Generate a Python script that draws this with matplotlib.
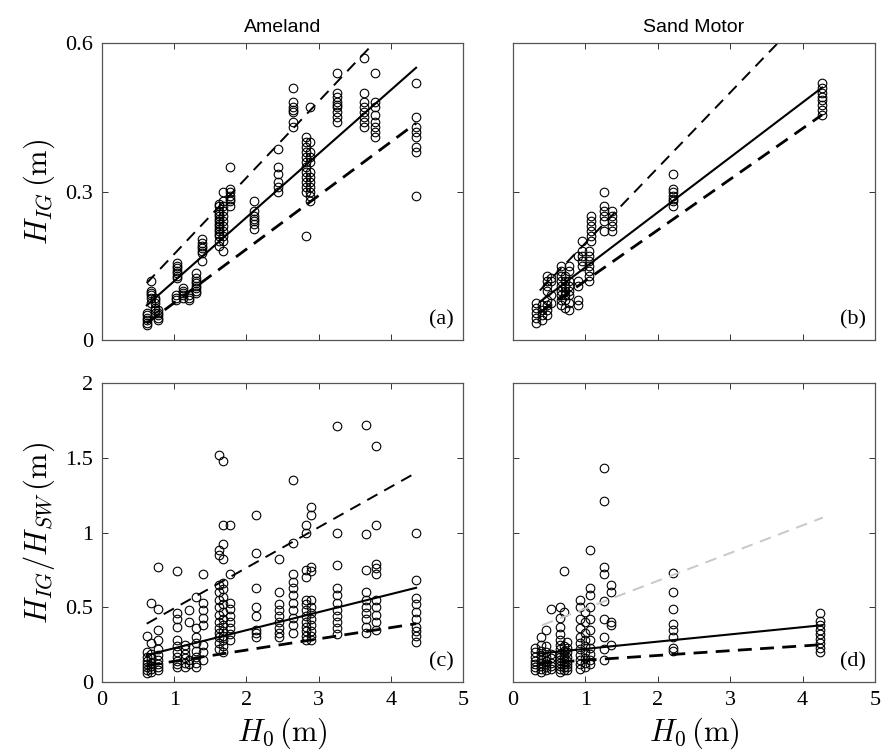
import matplotlib
matplotlib.use("Agg")
import matplotlib.pyplot as plt
import numpy as np

plt.rcParams['mathtext.fontset'] = 'cm'
plt.rcParams['font.family'] = ['Liberation Serif', 'DejaVu Serif']

# ---- data ----
# panel (a): Ameland, H_IG vs H0
a_x = [0.62, 0.68, 0.74, 0.78, 1.04, 1.02, 1.12, 1.20, 1.30, 1.38, 1.62, 1.67, 1.77,
       2.11, 2.44, 2.65, 2.82, 2.88, 3.25, 3.63, 3.78, 4.35]
a_y = [[0.030, 0.035, 0.040, 0.045, 0.050, 0.055],
       [0.075, 0.085, 0.090, 0.095, 0.100, 0.120],
       [0.055, 0.060, 0.065, 0.075, 0.080, 0.085],
       [0.040, 0.045, 0.050, 0.055, 0.060],
       [0.125, 0.130, 0.135, 0.140, 0.145, 0.150, 0.155],
       [0.080, 0.085, 0.090],
       [0.085, 0.090, 0.095, 0.100, 0.105],
       [0.080, 0.085, 0.090],
       [0.095, 0.100, 0.105, 0.110, 0.115, 0.120, 0.125, 0.135],
       [0.160, 0.175, 0.180, 0.185, 0.190, 0.195, 0.205],
       [0.19, 0.20, 0.21, 0.215, 0.22, 0.225, 0.23, 0.235, 0.24, 0.245, 0.25, 0.255, 0.26, 0.27, 0.275],
       [0.18, 0.20, 0.21, 0.22, 0.23, 0.24, 0.25, 0.26, 0.27, 0.28, 0.30],
       [0.27, 0.28, 0.285, 0.29, 0.30, 0.305, 0.35],
       [0.225, 0.235, 0.24, 0.245, 0.25, 0.26, 0.28],
       [0.30, 0.31, 0.32, 0.335, 0.35, 0.385],
       [0.43, 0.44, 0.46, 0.465, 0.47, 0.48, 0.51],
       [0.21, 0.30, 0.31, 0.32, 0.33, 0.34, 0.35, 0.36, 0.37, 0.38, 0.39, 0.40, 0.41],
       [0.28, 0.29, 0.30, 0.31, 0.32, 0.33, 0.34, 0.36, 0.37, 0.38, 0.40, 0.47],
       [0.44, 0.45, 0.46, 0.47, 0.475, 0.48, 0.49, 0.50, 0.54],
       [0.43, 0.44, 0.45, 0.46, 0.47, 0.48, 0.50, 0.57],
       [0.41, 0.42, 0.43, 0.44, 0.455, 0.47, 0.48, 0.54],
       [0.29, 0.38, 0.39, 0.41, 0.42, 0.43, 0.45, 0.52]]
a_line_x = [0.62, 4.35]
a_fit = [0.07, 0.55]
a_upper = [0.115, 0.69]
a_lower = [0.034, 0.438]

# panel (b): Sand Motor, H_IG vs H0
b_x = [0.32, 0.40, 0.47, 0.52, 0.66, 0.72, 0.78, 0.90, 0.95, 1.05, 1.08, 1.25, 1.37, 2.21, 4.27]
b_y = [[0.035, 0.045, 0.055, 0.065, 0.075],
       [0.04, 0.05, 0.06, 0.07],
       [0.05, 0.06, 0.07, 0.08, 0.10, 0.11, 0.12, 0.13],
       [0.075, 0.09, 0.12, 0.125],
       [0.07, 0.08, 0.09, 0.10, 0.11, 0.12, 0.13, 0.14, 0.15],
       [0.065, 0.08, 0.09, 0.10, 0.11, 0.12, 0.13],
       [0.06, 0.075, 0.09, 0.10, 0.11, 0.12, 0.14, 0.15],
       [0.07, 0.08, 0.11, 0.12, 0.17],
       [0.15, 0.16, 0.17, 0.18, 0.20],
       [0.12, 0.13, 0.14, 0.15, 0.16, 0.17, 0.18],
       [0.20, 0.21, 0.22, 0.23, 0.24, 0.25],
       [0.22, 0.24, 0.25, 0.26, 0.27, 0.30],
       [0.22, 0.23, 0.24, 0.25, 0.26],
       [0.27, 0.28, 0.285, 0.29, 0.30, 0.305, 0.335],
       [0.455, 0.465, 0.475, 0.485, 0.49, 0.50, 0.51, 0.52]]
b_line_x = [0.37, 4.27]
b_fit = [0.077, 0.51]
b_upper = [0.10, 0.693]
b_lower = [0.055, 0.455]

# panel (c): Ameland, H_IG/H_SW vs H0
c_x = [0.62, 0.68, 0.77, 1.04, 1.15, 1.20, 1.30, 1.40, 1.62, 1.68, 1.77, 2.13, 2.45,
       2.65, 2.82, 2.90, 3.25, 3.65, 3.80, 4.35]
c_y = [[0.06, 0.08, 0.10, 0.12, 0.14, 0.17, 0.20, 0.31],
       [0.07, 0.09, 0.11, 0.13, 0.16, 0.19, 0.26, 0.53],
       [0.08, 0.10, 0.12, 0.15, 0.18, 0.22, 0.28, 0.35, 0.49, 0.77],
       [0.10, 0.12, 0.14, 0.17, 0.20, 0.24, 0.28, 0.37, 0.42, 0.46, 0.74],
       [0.10, 0.13, 0.16, 0.19, 0.22, 0.25],
       [0.12, 0.15, 0.40, 0.48],
       [0.10, 0.13, 0.17, 0.21, 0.26, 0.30, 0.36, 0.57],
       [0.15, 0.20, 0.25, 0.38, 0.43, 0.48, 0.53, 0.72],
       [0.22, 0.26, 0.30, 0.33, 0.36, 0.40, 0.45, 0.50, 0.55, 0.60, 0.65, 0.85, 0.88, 1.52],
       [0.20, 0.24, 0.28, 0.31, 0.34, 0.38, 0.42, 0.47, 0.52, 0.57, 0.62, 0.66, 0.82, 0.92, 1.05, 1.48],
       [0.28, 0.32, 0.36, 0.40, 0.44, 0.49, 0.53, 0.72, 1.05],
       [0.30, 0.33, 0.35, 0.44, 0.50, 0.63, 0.86, 1.12],
       [0.30, 0.33, 0.36, 0.40, 0.44, 0.48, 0.52, 0.60, 0.82],
       [0.33, 0.38, 0.43, 0.48, 0.53, 0.58, 0.63, 0.67, 0.72, 0.93, 1.35],
       [0.28, 0.31, 0.34, 0.37, 0.40, 0.44, 0.48, 0.52, 0.55, 0.70, 0.75, 1.00, 1.05],
       [0.28, 0.31, 0.34, 0.38, 0.42, 0.46, 0.50, 0.55, 0.74, 0.77, 1.12, 1.17],
       [0.32, 0.36, 0.40, 0.44, 0.48, 0.53, 0.58, 0.63, 0.78, 1.00, 1.71],
       [0.33, 0.37, 0.42, 0.46, 0.50, 0.55, 0.60, 0.75, 0.99, 1.72],
       [0.35, 0.40, 0.45, 0.50, 0.55, 0.72, 0.76, 0.79, 1.05, 1.58],
       [0.27, 0.31, 0.34, 0.37, 0.42, 0.47, 0.52, 0.56, 0.68, 1.00]]
c_line_x = [0.62, 4.35]
c_fit = [0.18, 0.63]
c_upper = [0.39, 1.40]
c_lower = [0.11, 0.39]

# panel (d): Sand Motor, H_IG/H_SW vs H0
d_x = [0.30, 0.38, 0.45, 0.53, 0.65, 0.70, 0.75, 0.92, 1.00, 1.07, 1.26, 1.36, 2.21, 4.24]
d_y = [[0.08, 0.10, 0.12, 0.14, 0.17, 0.20, 0.23],
       [0.07, 0.09, 0.11, 0.13, 0.15, 0.18, 0.21, 0.25, 0.30],
       [0.08, 0.10, 0.12, 0.14, 0.17, 0.20, 0.24, 0.35],
       [0.09, 0.11, 0.13, 0.16, 0.19, 0.49],
       [0.07, 0.09, 0.11, 0.13, 0.15, 0.17, 0.19, 0.22, 0.25, 0.28, 0.32, 0.37, 0.43, 0.50],
       [0.08, 0.10, 0.12, 0.14, 0.16, 0.18, 0.21, 0.24, 0.47, 0.74],
       [0.08, 0.10, 0.12, 0.14, 0.17, 0.20, 0.23, 0.27],
       [0.09, 0.12, 0.15, 0.18, 0.22, 0.26, 0.30, 0.36, 0.42, 0.50, 0.55],
       [0.10, 0.13, 0.16, 0.20, 0.24, 0.28, 0.33, 0.40, 0.47],
       [0.12, 0.15, 0.19, 0.23, 0.28, 0.35, 0.42, 0.50, 0.58, 0.63, 0.88],
       [0.15, 0.22, 0.30, 0.42, 0.54, 0.72, 0.77, 1.21, 1.43],
       [0.25, 0.38, 0.40, 0.60, 0.65],
       [0.21, 0.23, 0.30, 0.35, 0.39, 0.49, 0.60, 0.73],
       [0.20, 0.23, 0.26, 0.29, 0.32, 0.35, 0.38, 0.41, 0.46]]
d_line_x = [0.35, 4.27]
d_fit = [0.19, 0.38]
d_upper_x = [0.40, 4.28]
d_upper = [0.38, 1.10]
d_lower = [0.125, 0.25]

panels = [
    ("(a)", a_x, a_y, a_line_x, a_fit, a_line_x, a_upper, a_lower, 'k'),
    ("(b)", b_x, b_y, b_line_x, b_fit, b_line_x, b_upper, b_lower, 'k'),
    ("(c)", c_x, c_y, c_line_x, c_fit, c_line_x, c_upper, c_lower, 'k'),
    ("(d)", d_x, d_y, d_line_x, d_fit, d_upper_x, d_upper, d_lower, '#c8c8c8'),
]

fig = plt.figure(figsize=(8.85, 7.55), dpi=100)
W, H = 885, 755
boxes = [(102, 43, 463, 340), (513, 43, 875, 340),
         (102, 383, 463, 682), (513, 383, 875, 682)]

axes = []
for i, (l, t, r, b) in enumerate(boxes):
    ax = fig.add_axes([l / W, 1 - b / H, (r - l) / W, (b - t) / H])
    axes.append(ax)
    lab, xs, ys, lx, fit, ux, up, lo, upc = panels[i]
    px = np.concatenate([[x] * len(y) for x, y in zip(xs, ys)])
    py = np.concatenate(ys)
    ax.plot(px, py, 'o', mfc='none', mec='k', ms=6.2, mew=0.8)
    ax.plot(lx, fit, '-', color='k', lw=1.5)
    ax.plot(ux, up, '--', color=upc, lw=1.4, dashes=(6, 4))
    ax.plot(lx, lo, '--', color='k', lw=2.0, dashes=(5, 3))
    ax.set_xlim(0, 5)
    if i < 2:
        ax.set_ylim(0, 0.6)
        ax.set_yticks([0, 0.3, 0.6])
        ax.set_yticklabels(['0', '0.3', '0.6'])
        ax.tick_params(labelbottom=False)
    else:
        ax.set_ylim(0, 2)
        ax.set_yticks([0, 0.5, 1, 1.5, 2])
        ax.set_yticklabels(['0', '0.5', '1', '1.5', '2'])
    ax.set_xticks([0, 1, 2, 3, 4, 5])
    ax.set_xticklabels(['0', '1', '2', '3', '4', '5'])
    if i % 2 == 1:
        ax.tick_params(labelleft=False)
    ax.tick_params(direction='in', top=True, right=True, length=4, width=0.7,
                   labelsize=16, color='#333333', pad=6.5)
    for s in ax.spines.values():
        s.set_color('#555555')
        s.set_linewidth(0.9)
    ax.text(0.975, 0.035, lab, transform=ax.transAxes, ha='right', va='bottom', fontsize=16)

axes[0].set_title('Ameland', fontsize=14, family=['Liberation Sans', 'DejaVu Sans'], pad=8)
axes[1].set_title('Sand Motor', fontsize=14, family=['Liberation Sans', 'DejaVu Sans'], pad=8)
axes[0].set_ylabel(r'$H_{IG}\,(\mathrm{m})$', fontsize=22, labelpad=6)
axes[2].set_ylabel(r'$H_{IG}/H_{SW}\,(\mathrm{m})$', fontsize=22, labelpad=6)
axes[2].set_xlabel(r'$H_0\,(\mathrm{m})$', fontsize=22, labelpad=4)
axes[3].set_xlabel(r'$H_0\,(\mathrm{m})$', fontsize=22, labelpad=4)

fig.savefig('out.png', dpi=100)
